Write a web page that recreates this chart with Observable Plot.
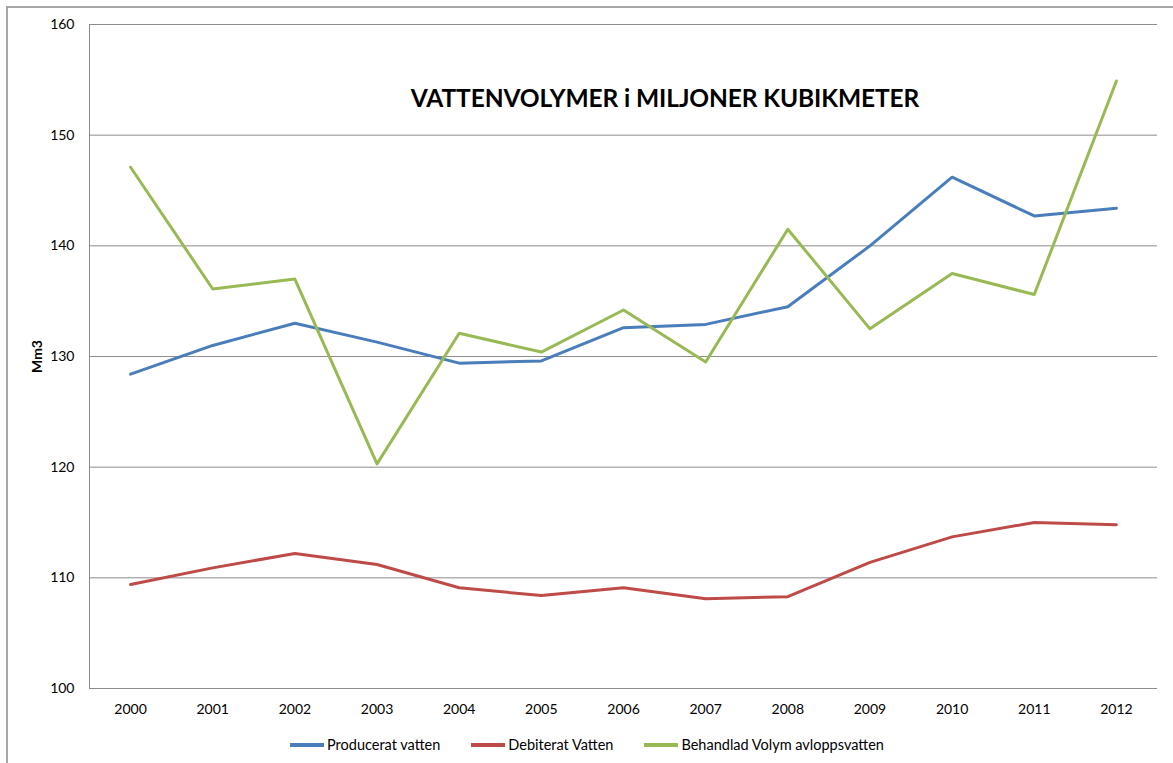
<!DOCTYPE html>
<html>
<head>
<meta charset="utf-8">
<script src="https://cdn.jsdelivr.net/npm/d3@7"></script>
<script src="https://cdn.jsdelivr.net/npm/@observablehq/plot@0.6"></script>
<style>
  html, body { margin: 0; padding: 0; background: #fff; }
  #wrap { position: relative; width: 1173px; height: 763px; overflow: hidden; font-family: Lato, "Open Sans", sans-serif; }
  #border { position: absolute; left: 6px; top: 6px; width: 1200px; height: 800px; border: 2px solid #a6a6a6; box-sizing: border-box; }
  #chart { position: absolute; left: 0; top: 0; }
  #title { position: absolute; left: 0; width: 1330px; top: 83px; text-align: center; font-weight: bold; font-size: 24.5px; color: #000; letter-spacing: -0.1px; }
  #legend { position: absolute; top: 735px; left: 290px; display: flex; font-size: 14.5px; color: #000; line-height: 20px; }
  .item { display: flex; align-items: center; }
  .swatch { width: 34px; height: 3.5px; margin-right: 3px; }
</style>
</head>
<body>
<div id="wrap">
  <div id="border"></div>
  <div id="chart"></div>
  <div id="title">VATTENVOLYMER i MILJONER KUBIKMETER</div>
  <div id="legend"></div>
</div>
<script>
const years = [2000, 2001, 2002, 2003, 2004, 2005, 2006, 2007, 2008, 2009, 2010, 2011, 2012];
const producerat = [128.4, 131.0, 133.0, 131.3, 129.4, 129.6, 132.6, 132.9, 134.5, 140.0, 146.2, 142.7, 143.4];
const debiterat  = [109.4, 110.9, 112.2, 111.2, 109.1, 108.4, 109.1, 108.1, 108.3, 111.4, 113.7, 115.0, 114.8];
const behandlad  = [147.1, 136.1, 137.0, 120.3, 132.1, 130.4, 134.2, 129.5, 141.5, 132.5, 137.5, 135.6, 154.9];
const seriesNames = ["Producerat vatten", "Debiterat Vatten", "Behandlad Volym avloppsvatten"];
const seriesColors = ["#4a7ebb", "#be4b48", "#98b954"];
const yTicks = [100, 110, 120, 130, 140, 150, 160];
const yLabel = "Mm3";

const allSeries = [producerat, debiterat, behandlad];
const data = [];
allSeries.forEach((vals, si) => vals.forEach((v, i) => data.push({year: years[i], value: v, series: seriesNames[si]})));

const chart = Plot.plot({
  width: 1173,
  height: 763,
  marginLeft: 89,
  marginRight: 16,
  marginTop: 24,
  marginBottom: 75,
  style: {fontFamily: "Lato, 'Open Sans', sans-serif", fontSize: "14px", color: "#000", background: "transparent"},
  x: {domain: [years[0] - 0.5, years[years.length - 1] + 0.5]},
  y: {domain: [100, 160]},
  color: {domain: seriesNames, range: seriesColors},
  marks: [
    Plot.gridY(yTicks, {stroke: "#8c8c8c", strokeOpacity: 1, strokeWidth: 1}),
    Plot.ruleX([years[0] - 0.5], {stroke: "#8c8c8c", strokeWidth: 1}),
    Plot.axisY(yTicks, {tickSize: 0, tickPadding: 15, label: null, fontSize: 14}),
    Plot.axisX(years, {tickSize: 0, tickPadding: 16, label: null, tickFormat: d => String(d), fontSize: 14}),
    Plot.text([yLabel], {frameAnchor: "left", dx: -52, rotate: -90, textAnchor: "middle", lineAnchor: "middle", fontWeight: "bold", fontSize: 14}),
    Plot.line(data, {x: "year", y: "value", z: "series", stroke: "series", strokeWidth: 3, strokeLinejoin: "round", strokeLinecap: "round"})
  ]
});
document.getElementById("chart").appendChild(chart);

const legend = document.getElementById("legend");
seriesNames.forEach((name, i) => {
  const item = document.createElement("div");
  item.className = "item";
  const sw = document.createElement("div");
  sw.className = "swatch";
  sw.style.background = seriesColors[i];
  const t = document.createElement("span");
  t.textContent = name;
  item.appendChild(sw);
  item.appendChild(t);
  if (i < seriesNames.length - 1) item.style.marginRight = "31px";
  legend.appendChild(item);
});
</script>
</body>
</html>
